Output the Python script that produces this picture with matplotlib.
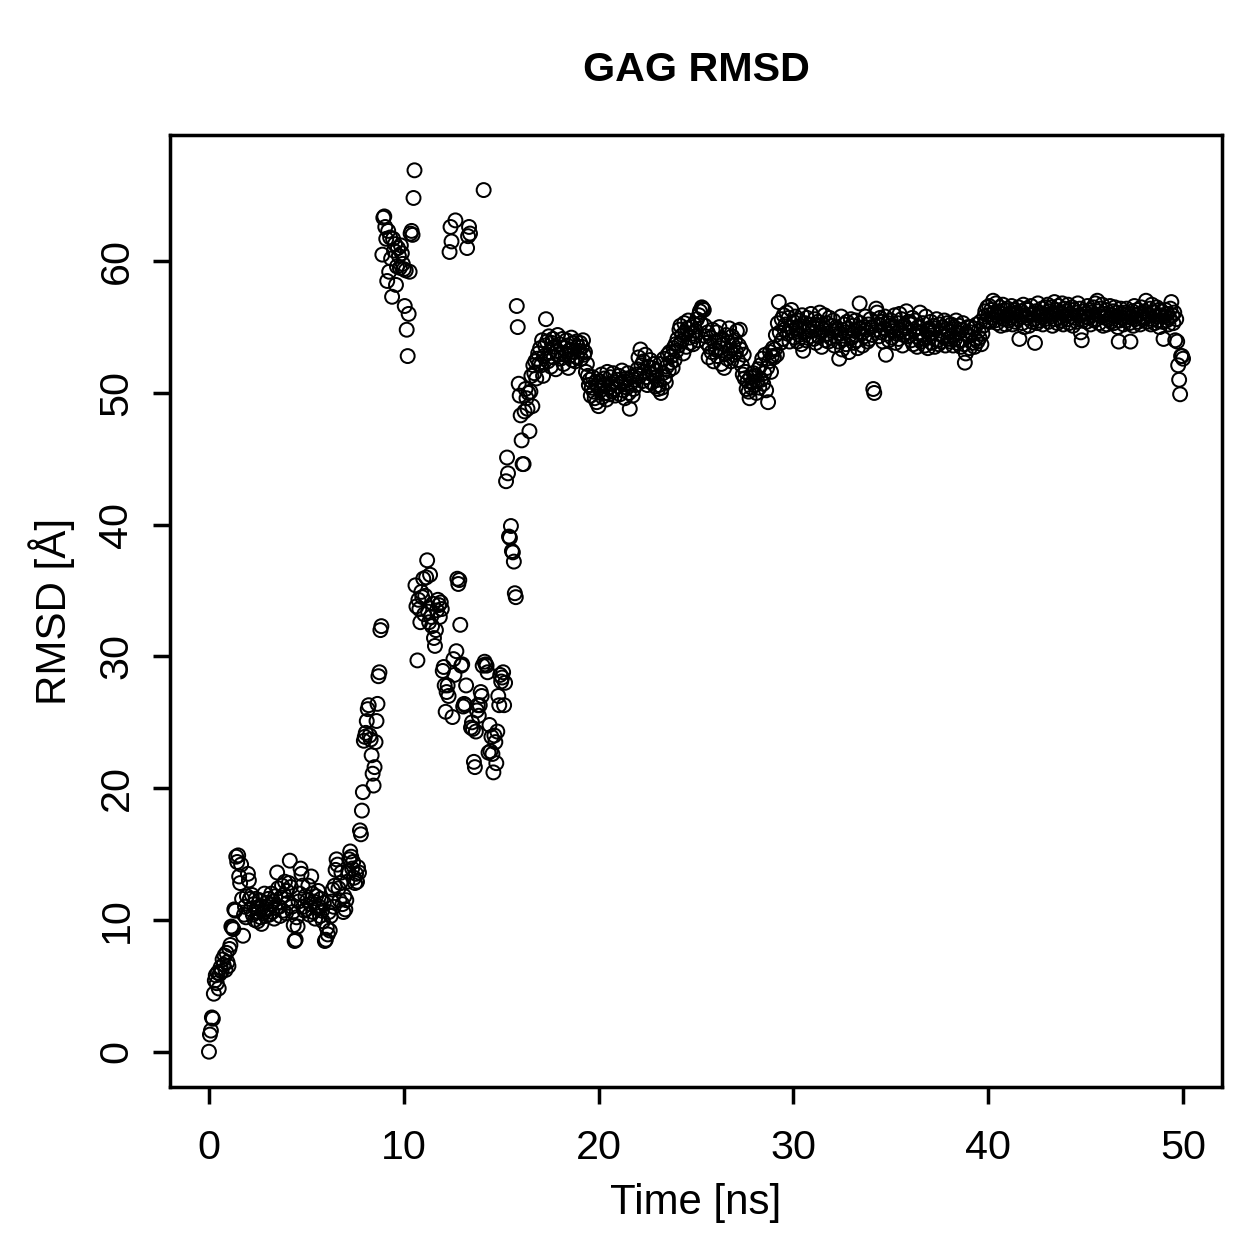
"""
GAG RMSD scatter plot (R base-graphics look) rebuilt with matplotlib.
"""

import numpy as np
import matplotlib
matplotlib.use('Agg')
import matplotlib.pyplot as plt

plt.rcParams['font.family'] = ['Liberation Sans', 'DejaVu Sans']

# Sampling interval of the trajectory (ns) - one frame every 0.05 ns
FRAME_STEP = 0.05

# RMSD values [Angstrom], 20 frames per nanosecond
rmsd_00_08 = [
    0.0, 1.3, 1.6, 2.6, 2.5, 4.4, 5.4, 5.8, 5.2, 6.0, 4.8, 5.9, 6.4, 6.1, 7.0, 6.6, 7.3, 6.2, 7.5, 6.8,
    6.5, 7.8, 8.1, 9.5, 9.4, 9.3, 10.8, 10.7, 14.8, 14.4, 14.9, 13.3, 12.8, 14.2, 11.6, 8.8, 10.4, 11.0, 10.2, 11.8,
    13.5, 13.0, 11.6, 10.8, 11.9, 10.4, 11.2, 10.0, 11.6, 10.9, 9.9, 10.6, 11.5, 10.2, 9.7, 11.0, 10.5, 12.0, 10.3, 11.3,
    10.8, 11.6, 10.4, 11.2, 12.0, 10.6, 11.4, 10.1, 11.8, 10.9, 13.6, 12.4, 11.0, 10.3, 11.7, 12.6, 10.7, 11.9, 12.9, 10.5,
    12.2, 11.3, 12.8, 14.5, 12.5, 11.0, 10.6, 9.6, 8.4, 8.5, 10.2, 9.5, 11.4, 12.0, 13.9, 13.5, 12.6, 11.0, 10.7, 11.8,
    10.8, 11.5, 12.6, 10.4, 11.2, 13.3, 12.0, 10.6, 11.4, 10.1, 11.8, 10.9, 12.2, 11.0, 10.3, 11.6, 10.7, 9.9, 11.3, 8.4,
    8.5, 9.4, 8.9, 10.6, 9.2, 10.3, 11.4, 12.3, 11.0, 12.6, 13.8, 14.6, 14.2, 12.4, 11.5, 12.8, 13.6, 11.2, 10.6, 11.8,
    10.8, 11.5, 12.9, 13.7, 14.6, 15.2, 14.8, 13.9, 14.4, 13.2, 12.8, 13.5, 12.9, 14.0, 13.6, 16.8, 16.5, 18.3, 19.7, 23.6,
]

rmsd_08_17 = [
    23.9, 24.2, 25.1, 26.0, 26.3, 24.0, 23.7, 22.5, 21.1, 20.2, 21.6, 23.5, 25.1, 26.4, 28.5, 28.8, 32.0, 32.3, 60.5, 63.3,
    63.4, 62.6, 61.7, 58.5, 62.3, 59.2, 61.8, 60.2, 57.3, 61.7, 60.8, 61.3, 58.2, 59.6, 61.0, 60.4, 59.5, 61.2, 60.6, 59.8,
    59.4, 56.6, 59.3, 54.8, 52.8, 56.0, 59.2, 62.1, 62.3, 62.0, 64.8, 66.9, 35.4, 33.8, 29.7, 34.3, 33.6, 32.6, 34.9, 34.5,
    35.9, 33.2, 34.6, 36.0, 37.3, 33.4, 32.6, 36.2, 33.0, 32.3, 34.0, 31.4, 30.8, 32.0, 33.5, 34.3, 33.9, 33.0, 34.1, 33.6,
    28.9, 29.2, 27.8, 25.8, 27.3, 27.8, 27.0, 60.7, 62.6, 61.5, 25.4, 29.8, 28.6, 63.1, 30.4, 35.9, 35.5, 35.8, 32.4, 29.3,
    29.4, 26.2, 26.4, 26.3, 27.8, 61.0, 61.9, 62.6, 62.1, 24.6, 25.0, 24.5, 22.0, 21.6, 24.3, 25.9, 26.3, 25.5, 26.3, 27.3,
    27.0, 29.3, 65.4, 29.6, 29.4, 29.3, 28.8, 22.7, 24.8, 22.8, 23.9, 22.6, 21.2, 24.0, 23.5, 21.9, 24.3, 27.0, 26.3, 28.6,
    28.1, 28.4, 28.8, 26.3, 28.0, 43.3, 45.1, 43.9, 39.1, 39.0, 39.9, 38.0, 37.9, 37.2, 34.8, 34.5, 56.6, 55.0, 50.7, 49.8,
    48.3, 46.4, 44.6, 44.6, 48.6, 50.3, 49.6, 48.8, 50.0, 47.1, 50.1, 51.3, 49.0, 52.1, 51.5, 52.4, 51.1, 52.6, 53.0, 52.2,
]

rmsd_17_30 = [
    53.4, 52.1, 54.0, 51.3, 52.8, 53.6, 55.6, 53.9, 52.4, 54.3, 53.1, 52.0, 53.8, 54.1, 52.7, 53.5, 51.8, 53.2, 54.4, 52.9,
    53.7, 52.6, 53.0, 54.1, 52.2, 53.4, 52.9, 54.0, 53.6, 51.9, 52.8, 53.3, 54.2, 52.5, 53.8, 53.1, 52.4, 53.9, 52.7, 53.5,
    53.2, 53.8, 52.6, 53.5, 54.0, 52.9, 53.1, 51.6, 52.2, 51.3, 50.6, 51.0, 49.8, 50.4, 51.2, 50.1, 49.6, 50.8, 49.3, 50.5,
    49.0, 50.9, 50.2, 51.4, 49.7, 50.6, 51.1, 50.0, 49.5, 51.6, 50.4, 49.9, 51.2, 50.7, 50.1, 51.5, 50.3, 49.8, 50.8, 51.0,
    50.5, 51.3, 49.9, 50.8, 51.7, 50.2, 50.9, 49.6, 51.1, 50.4, 51.5, 50.0, 48.8, 50.7, 51.2, 49.8, 50.3, 51.0, 50.6, 51.4,
    51.8, 52.7, 51.3, 53.3, 52.1, 50.9, 52.4, 51.6, 52.9, 51.2, 50.6, 52.0, 51.5, 52.5, 50.8, 51.9, 51.4, 52.2, 50.5, 51.7,
    51.0, 50.3, 50.6, 52.2, 50.0, 50.4, 51.5, 52.6, 51.2, 50.8, 52.0, 52.9, 51.7, 53.1, 52.3, 52.8, 51.9, 53.4, 52.5, 53.7,
    53.2, 54.1, 53.6, 54.8, 55.1, 53.9, 54.4, 53.0, 55.3, 54.6, 53.5, 54.9, 55.5, 54.2, 53.8, 55.0, 54.5, 53.7, 55.2, 54.3,
    54.7, 55.6, 54.0, 55.9, 56.2, 55.3, 56.5, 56.4, 56.3, 55.1, 54.3, 53.8, 54.6, 52.7, 53.5, 54.2, 53.1, 54.8, 52.4, 53.9,
    53.3, 54.6, 52.8, 53.9, 55.0, 53.4, 52.2, 54.1, 53.7, 51.9, 53.0, 54.4, 52.6, 53.8, 54.9, 53.2, 52.4, 54.3, 53.6, 52.9,
    54.0, 53.1, 54.7, 52.5, 53.6, 54.8, 53.3, 52.1, 51.4, 52.9, 51.1, 51.6, 50.3, 50.9, 50.1, 49.6, 51.2, 50.4, 50.8, 51.5,
    50.6, 51.3, 50.0, 50.9, 51.8, 50.4, 52.1, 51.0, 52.6, 50.7, 51.5, 52.9, 50.2, 51.9, 49.3, 52.4, 53.1, 51.6, 52.8, 53.4,
    52.7, 53.3, 54.4, 52.9, 55.3, 56.9, 54.6, 53.8, 55.6, 54.1, 55.9, 54.8, 55.2, 56.1, 54.5, 55.7, 53.9, 55.0, 56.3, 54.7,
]

rmsd_30_40 = [
    55.4, 54.2, 55.8, 54.9, 53.9, 55.5, 54.4, 55.1, 53.7, 55.9, 53.2, 54.6, 55.3, 54.0, 55.7, 54.8, 55.2, 54.3, 56.0, 54.7,
    55.0, 54.1, 55.6, 53.8, 54.9, 55.4, 54.3, 56.1, 54.6, 53.5, 55.2, 54.8, 55.9, 54.0, 55.3, 54.5, 53.9, 55.7, 54.2, 55.1,
    54.7, 55.5, 53.6, 54.3, 55.0, 54.8, 53.9, 52.6, 54.5, 55.8, 53.3, 54.1, 55.2, 54.6, 53.7, 55.4, 54.9, 53.1, 54.4, 55.6,
    54.2, 55.1, 53.8, 54.7, 55.5, 54.0, 53.4, 54.9, 56.8, 55.3, 54.5, 53.6, 55.0, 54.3, 55.8, 54.8, 53.9, 55.2, 54.1, 55.6,
    55.0, 54.4, 50.3, 50.0, 54.8, 56.4, 56.1, 55.2, 54.3, 55.7, 54.6, 55.4, 53.9, 54.9, 55.8, 52.9, 54.5, 55.3, 54.0, 55.1,
    55.5, 54.2, 55.0, 54.7, 55.9, 53.8, 54.5, 55.3, 54.1, 56.0, 54.8, 55.6, 53.6, 54.4, 55.1, 54.9, 56.2, 54.3, 55.4, 54.6,
    55.2, 54.0, 55.7, 53.7, 54.8, 55.5, 54.3, 53.5, 55.0, 54.6, 56.1, 53.9, 54.4, 55.3, 54.1, 53.6, 55.8, 54.7, 53.4, 54.9,
    54.2, 55.4, 53.8, 54.6, 55.1, 53.5, 54.9, 55.6, 54.0, 53.7, 55.2, 54.5, 53.9, 55.0, 54.3, 55.5, 53.6, 54.8, 55.3, 54.1,
    54.7, 53.9, 55.2, 54.4, 53.6, 55.0, 54.1, 55.5, 53.8, 54.6, 55.1, 54.0, 53.5, 54.8, 55.3, 53.7, 52.3, 53.0, 54.5, 55.0,
    54.3, 53.4, 55.0, 54.6, 53.8, 54.9, 53.5, 54.1, 55.2, 53.9, 54.7, 54.2, 55.4, 53.7, 54.5, 55.1, 55.8, 56.2, 55.5, 56.5,
]

rmsd_40_50 = [
    55.9, 56.6, 55.4, 56.3, 55.7, 57.0, 56.1, 55.5, 56.8, 55.3, 56.2, 55.8, 56.5, 55.1, 56.0, 56.7, 55.6, 56.3, 55.2, 55.9,
    56.4, 55.5, 56.0, 55.7, 56.6, 55.2, 55.9, 56.3, 55.4, 56.1, 55.6, 56.5, 54.1, 55.8, 56.2, 55.3, 56.7, 55.0, 55.9, 56.4,
    55.7, 56.3, 55.1, 55.9, 56.6, 55.4, 56.0, 55.6, 53.8, 56.2, 55.3, 56.8, 55.5, 56.1, 55.8, 56.4, 55.2, 56.0, 55.6, 56.5,
    55.9, 56.7, 55.4, 56.2, 55.8, 56.5, 55.1, 56.0, 56.9, 55.6, 56.3, 55.3, 56.6, 55.7, 56.1, 55.5, 56.8, 55.2, 56.4, 55.9,
    56.2, 55.6, 56.7, 55.3, 56.0, 55.8, 56.5, 55.1, 56.3, 55.7, 56.1, 55.4, 56.8, 55.9, 56.4, 54.6, 54.0, 55.5, 56.2, 55.8,
    56.0, 55.4, 56.6, 55.7, 56.3, 55.2, 56.1, 55.9, 56.5, 55.5, 56.8, 55.6, 57.0, 56.2, 55.3, 56.4, 55.8, 56.7, 55.1, 56.0,
    55.7, 56.3, 55.2, 56.0, 55.6, 56.6, 55.4, 55.9, 56.2, 55.3, 56.5, 55.8, 56.1, 55.0, 53.9, 55.5, 56.4, 55.7, 56.0, 55.2,
    56.1, 55.5, 56.4, 55.8, 56.0, 55.3, 53.9, 55.7, 56.2, 55.1, 56.6, 55.6, 55.9, 56.3, 55.4, 56.0, 55.2, 56.5, 55.8, 55.6,
    56.2, 55.7, 57.0, 55.4, 56.0, 55.9, 56.4, 55.2, 56.7, 55.6, 56.1, 55.3, 55.8, 56.5, 55.5, 56.3, 55.0, 55.9, 56.2, 55.4,
    54.1, 55.8, 56.3, 55.5, 56.0, 55.2, 55.7, 56.4, 56.9, 55.9, 55.3, 56.1, 54.0, 55.6, 53.9, 52.1, 51.0, 49.9, 52.8, 52.8,
    52.6,
]

rmsd = np.array(rmsd_00_08 + rmsd_08_17 + rmsd_17_30 + rmsd_30_40 + rmsd_40_50)
time_ns = np.arange(len(rmsd)) * FRAME_STEP

x_ticks = [0, 10, 20, 30, 40, 50]
y_ticks = [0, 10, 20, 30, 40, 50, 60]

# =========================================================================
# Figure / axes placed like the R device (1259 x 1259 px)
# =========================================================================
W = 1259
fig = plt.figure(figsize=(W / 180, W / 180), dpi=180)
ax = fig.add_axes([170 / W, 1 - 1087 / W, (1222 - 170) / W, (1087 - 135) / W])

ax.scatter(time_ns, rmsd, s=31, facecolors='none', edgecolors='black',
           linewidths=0.8)

# R pads the data range by 4 % on each side
ax.set_xlim(-2.0, 52.0)
ax.set_ylim(-2.68, 69.58)

for side in ax.spines.values():
    side.set_linewidth(1.4)

ax.set_xticks(x_ticks)
ax.set_yticks(y_ticks)
ax.tick_params(axis='both', direction='out', length=6.8, width=1.4,
               labelsize=16.5)
ax.tick_params(axis='x', pad=10)
ax.tick_params(axis='y', pad=7)
for lab in ax.get_yticklabels():
    lab.set_rotation(90)
    lab.set_va('center')

# Title and axis labels at the positions used by plot()
cx = (170 + 1222) / 2 / W
fig.text(cx, 1 - 70 / W, 'GAG RMSD', ha='center', va='center',
         fontsize=16.5, fontweight='bold')
fig.text(cx, 1 - 1203 / W, 'Time [ns]', ha='center', va='center', fontsize=16.8)
fig.text(52 / W, 1 - 611 / W, 'RMSD [Å]', ha='center', va='center',
         rotation=90, fontsize=16.8)

fig.savefig('out.png', dpi=180, facecolor='white')
plt.close(fig)
